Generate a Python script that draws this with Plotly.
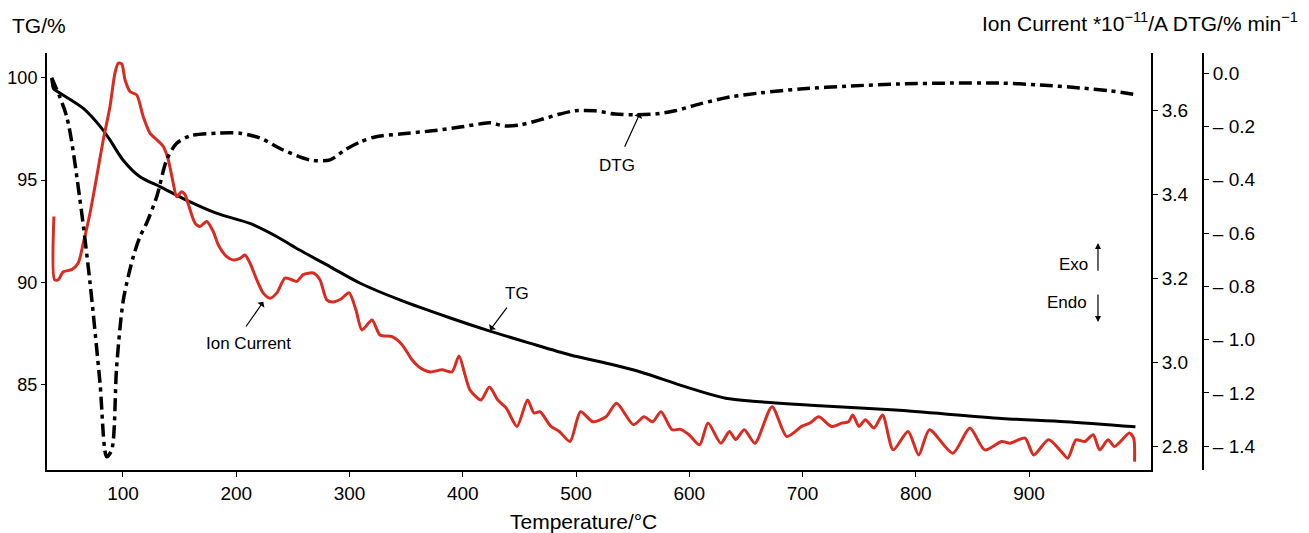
import plotly.graph_objects as go

# ---- data ----
tg_temp = [37, 38.5, 40, 65, 80, 88.5, 100, 115, 133, 156, 183, 212, 236, 256, 283, 309, 345, 389,
           424, 459, 495, 530, 557, 592, 618, 632, 654, 707, 782, 876, 932, 994]
tg_val = [99.97, 99.48, 99.40, 98.50, 97.61, 96.96, 95.98, 95.16, 94.67, 94.02, 93.37, 92.88, 92.23,
          91.58, 90.76, 89.97, 89.13, 88.26, 87.62, 87.03, 86.45, 86.01, 85.62, 84.98, 84.54, 84.34,
          84.20, 84.00, 83.76, 83.35, 83.19, 82.94]

dtg_temp = [37, 50.3, 62, 70.9, 79.7, 85.6, 90, 94.4, 100.3, 109.1, 115, 120.9, 129.8, 138.6, 147.4,
            159.2, 182.7, 203.3, 221, 241.5, 265.1, 282.8, 296, 309.3, 322.5, 344.6, 371.1, 397.6,
            415.2, 424.1, 437.3, 450.6, 468.2, 485.9, 499.1, 516.8, 534.4, 552.1, 569.8, 587.4,
            609.5, 636, 662.5, 697.8, 742, 786.1, 830.3, 874.4, 909.7, 945.1, 971.6, 995.4]
dtg_val = [-0.017, -0.163, -0.475, -0.787, -1.162, -1.439, -1.414, -1.101, -0.851, -0.688, -0.613,
           -0.562, -0.463, -0.325, -0.263, -0.235, -0.225, -0.225, -0.243, -0.288, -0.325, -0.325,
           -0.288, -0.258, -0.239, -0.228, -0.217, -0.202, -0.190, -0.186, -0.198, -0.194, -0.175,
           -0.153, -0.141, -0.141, -0.153, -0.156, -0.153, -0.141, -0.115, -0.089, -0.074, -0.059,
           -0.048, -0.040, -0.037, -0.037, -0.044, -0.055, -0.066, -0.081]

ion_temp = [39.0, 39.6, 42.9, 47.3, 54.7, 60.5, 64.9, 70.9, 76.8, 82.6, 88.5, 92.9, 95.9, 98.9, 101.8,
            106.2, 112.1, 117.9, 123.8, 129.8, 135.6, 140, 144.4, 147.4, 151.8, 154.7, 159.2, 163.6,
            168, 173.9, 179.7, 184.2, 191.6, 197.4, 203.3, 207.7, 212.1, 218.1, 223.9, 229.8, 235.7,
            243, 248.9, 253.4, 259.2, 268.1, 273.9, 279.9, 285.4, 292.5, 299.6, 305.7, 311, 319.9,
            326.9, 337.5, 346.4, 355.2, 362.3, 371.1, 381.7, 390.5, 396.7, 402, 406.4, 416.1, 423.5,
            431, 438.6, 447.9, 457.2, 462.9, 468.2, 477.9, 485.3, 494.7, 504, 515, 526.5, 535.8,
            550.8, 560.1, 567.6, 575.1, 584.8, 592.2, 599.8, 609.2, 616.6, 627.9, 635.5, 641, 648.6,
            658, 673.1, 686.1, 699.3, 706.6, 714.3, 725.6, 734.9, 740.6, 744.4, 749.9, 755.6, 763.1,
            770.7, 780.1, 793.2, 802.6, 812.1, 832.7, 847.8, 860.9, 875.9, 883.2, 896.5, 904.1,
            917.2, 928.5, 934.2, 941.5, 949.2, 956.7, 962.4, 969.8, 975.5, 988.7, 992.4, 993.2]
ion_val = [3.348, 3.197, 3.197, 3.216, 3.221, 3.237, 3.284, 3.356, 3.443, 3.531, 3.610, 3.690, 3.714,
           3.712, 3.674, 3.646, 3.638, 3.586, 3.547, 3.531, 3.515, 3.483, 3.427, 3.395, 3.407, 3.400,
           3.364, 3.332, 3.324, 3.336, 3.312, 3.280, 3.252, 3.244, 3.248, 3.256, 3.237, 3.197, 3.165,
           3.153, 3.165, 3.201, 3.197, 3.193, 3.209, 3.213, 3.197, 3.149, 3.144, 3.151, 3.166, 3.125,
           3.077, 3.101, 3.065, 3.061, 3.042, 3.006, 2.987, 2.977, 2.982, 2.977, 3.015, 2.970, 2.934,
           2.910, 2.941, 2.910, 2.890, 2.847, 2.910, 2.879, 2.882, 2.847, 2.835, 2.811, 2.882, 2.858,
           2.870, 2.902, 2.851, 2.870, 2.858, 2.882, 2.839, 2.840, 2.827, 2.803, 2.855, 2.807, 2.835,
           2.816, 2.839, 2.807, 2.894, 2.823, 2.847, 2.855, 2.870, 2.847, 2.855, 2.858, 2.874, 2.847,
           2.863, 2.843, 2.874, 2.791, 2.835, 2.779, 2.839, 2.783, 2.843, 2.791, 2.811, 2.807, 2.819,
           2.779, 2.815, 2.787, 2.771, 2.815, 2.811, 2.827, 2.791, 2.815, 2.799, 2.831, 2.819, 2.763]

x_ticks = [100, 200, 300, 400, 500, 600, 700, 800, 900]
tg_ticks = [85, 90, 95, 100]
ion_ticks = [2.8, 3.0, 3.2, 3.4, 3.6]
ion_ticktext = ["2.8", "3.0", "3.2", "3.4", "3.6"]
dtg_ticks = [0.0, -0.2, -0.4, -0.6, -0.8, -1.0, -1.2, -1.4]
dtg_ticktext = ["0.0", "\u2013 0.2", "\u2013 0.4", "\u2013 0.6", "\u2013 0.8", "\u2013 1.0", "\u2013 1.2", "\u2013 1.4"]

FONT = "Liberation Sans, Arial, sans-serif"
RED = "#d92b1f"

fig = go.Figure()
fig.add_trace(go.Scatter(x=ion_temp, y=ion_val, yaxis="y2", mode="lines",
                         line=dict(color=RED, width=3, shape="spline", smoothing=0.7),
                         hoverinfo="skip"))
fig.add_trace(go.Scatter(x=tg_temp, y=tg_val, yaxis="y", mode="lines",
                         line=dict(color="black", width=3, shape="spline", smoothing=0.8),
                         hoverinfo="skip"))
fig.add_trace(go.Scatter(x=dtg_temp, y=dtg_val, yaxis="y3", mode="lines",
                         line=dict(color="black", width=3.5, shape="spline", smoothing=0.8,
                                   dash="13px,5px,4px,5px"),
                         hoverinfo="skip"))

axis_common = dict(showgrid=False, zeroline=False, showline=True, linecolor="black", linewidth=2,
                   ticks="outside", ticklen=5, tickwidth=1, tickcolor="black", automargin=False)
tick_font = dict(family=FONT, size=19, color="black")

# page body adds an 8px margin, so the figure is laid out 8px smaller / shifted
fig.update_layout(
    width=1301, height=525,
    margin=dict(l=39, r=106, t=45, b=63),
    paper_bgcolor="white", plot_bgcolor="white",
    showlegend=False,
    xaxis=dict(domain=[0, 0.955], range=[32.9, 1007.7], tickvals=x_ticks, tickfont=tick_font,
               **axis_common),
    yaxis=dict(range=[80.83, 101.21], tickvals=tg_ticks, ticklen=4,
               tickfont=dict(family=FONT, size=18, color="black"),
               **{k: v for k, v in axis_common.items() if k != "ticklen"}),
    yaxis2=dict(overlaying="y", side="right", anchor="x", range=[2.743, 3.738],
                tickvals=ion_ticks, ticktext=ion_ticktext, tickfont=tick_font, **axis_common),
    yaxis3=dict(overlaying="y", side="right", anchor="free", position=1.0, range=[-1.489, 0.076],
                tickvals=dtg_ticks, ticktext=dtg_ticktext, tickfont=tick_font, **axis_common),
)

ann_font = dict(family=FONT, size=17, color="black")
title_font = dict(family=FONT, size=21, color="black")
annotations = [
    # titles
    dict(xref="paper", yref="paper", x=-0.032, y=1.067, xanchor="left", yanchor="middle",
         text="TG/%", showarrow=False, font=title_font),
    dict(xref="paper", yref="paper", x=1.084, y=1.074, xanchor="right", yanchor="middle",
         text="Ion Current *10<sup>\u221211</sup>/A DTG/% min<sup>\u22121</sup>", showarrow=False,
         font=title_font),
    dict(xref="paper", yref="paper", x=0.4637, y=-0.1247, xanchor="center", yanchor="middle",
         text="Temperature/\u00b0C", showarrow=False, font=title_font),
    # curve labels
    dict(xref="x", yref="y", x=210.4, y=87.03, text="Ion Current", showarrow=False, font=ann_font),
    dict(xref="x", yref="y", x=223.9, y=89.05, ax=207.7, ay=87.77, axref="x", ayref="y",
         text="", showarrow=True, arrowhead=1, arrowsize=1.2, arrowwidth=1.2, arrowcolor="black"),
    dict(xref="x", yref="y", x=448, y=89.48, text="TG", showarrow=False, font=ann_font),
    dict(xref="x", yref="y", x=424.1, y=87.67, ax=440, ay=88.84, axref="x", ayref="y",
         text="", showarrow=True, arrowhead=1, arrowsize=1.2, arrowwidth=1.2, arrowcolor="black"),
    dict(xref="x", yref="y", x=536.2, y=95.73, text="DTG", showarrow=False, font=ann_font),
    dict(xref="x", yref="y", x=556.5, y=98.27, ax=542.4, ay=96.56, axref="x", ayref="y",
         text="", showarrow=True, arrowhead=1, arrowsize=1.2, arrowwidth=1.2, arrowcolor="black"),
    dict(xref="x", yref="y", x=938.9, y=90.85, text="Exo", showarrow=False, font=ann_font),
    dict(xref="x", yref="y", x=960.9, y=91.92, ax=960.9, ay=90.50, axref="x", ayref="y",
         text="", showarrow=True, arrowhead=2, arrowsize=1, arrowwidth=1.2, arrowcolor="black"),
    dict(xref="x", yref="y", x=933.6, y=89.04, text="Endo", showarrow=False, font=ann_font),
    dict(xref="x", yref="y", x=960.9, y=88.06, ax=960.9, ay=89.48, axref="x", ayref="y",
         text="", showarrow=True, arrowhead=2, arrowsize=1, arrowwidth=1.2, arrowcolor="black"),
]
fig.update_layout(annotations=annotations)

fig.write_html("out.html")
